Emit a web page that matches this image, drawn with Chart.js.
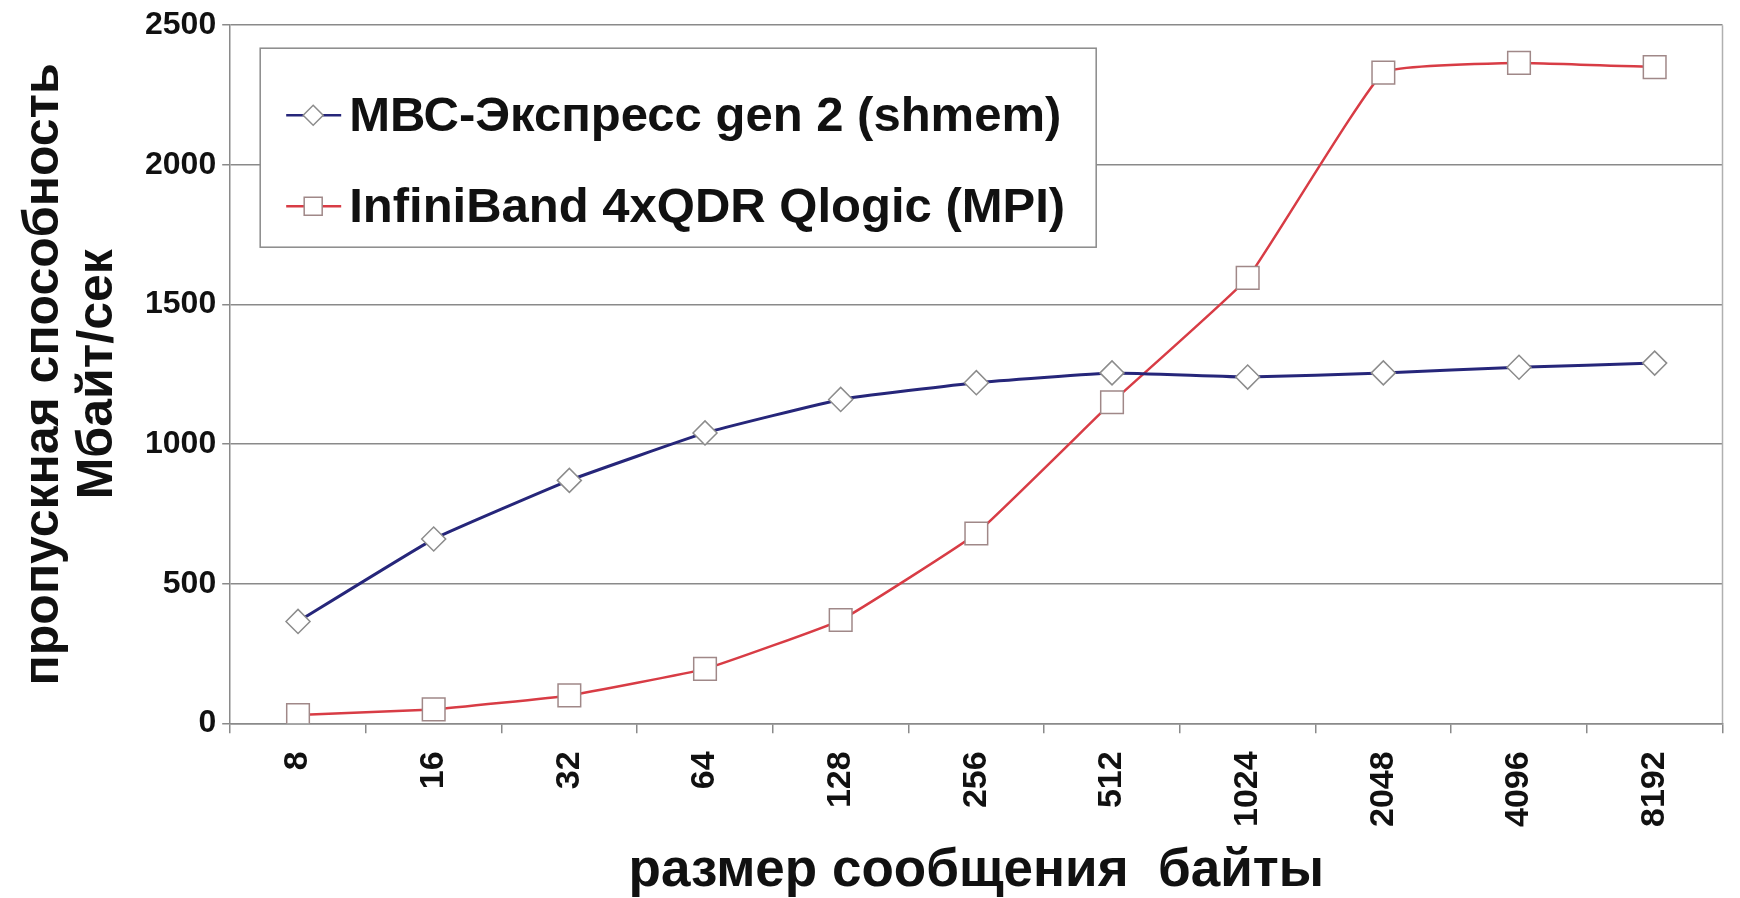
<!DOCTYPE html>
<html>
<head>
<meta charset="utf-8">
<script src="https://cdn.jsdelivr.net/npm/chart.js@4.4.1/dist/chart.umd.min.js"></script>
<style>
    html, body { margin: 0; padding: 0; background: #fff; }
    #wrap { width: 1740px; height: 898px; }
</style>
</head>
<body>
<div id="wrap"><canvas id="chart"></canvas></div>
<script>
// message sizes, bytes
const sizes = ["8", "16", "32", "64", "128", "256", "512", "1024", "2048", "4096", "8192"];
// bandwidth, MB/s
const mvsValues = [365, 660, 870, 1040, 1160, 1220, 1255, 1240, 1255, 1275, 1290];
const ibValues = [30, 50, 100, 195, 370, 680, 1150, 1595, 2330, 2365, 2350];
const seriesNames = ["МВС-Экспресс gen 2 (shmem)", "InfiniBand 4xQDR Qlogic (MPI)"];
const yTitle = ["пропускная способность", "Мбайт/сек"];
const xTitle = "размер сообщения  байты";

const FONT = "'Liberation Sans', Arial, sans-serif";
const GRID = "#8a8a8a";

/**
 * Legend drawn inside the plot, top-left, like the Excel original
 */
const insideLegend = {
    id: "insideLegend",
    afterDraw(chart) {
        const ctx = chart.ctx;
        const area = chart.chartArea;

        // right border of the plot
        ctx.save();
        ctx.strokeStyle = "#b0b0b0";
        ctx.lineWidth = 1.5;
        ctx.beginPath();
        ctx.moveTo(area.right, area.top);
        ctx.lineTo(area.right, area.bottom);
        ctx.stroke();

        const x0 = area.left + 30;
        const y0 = area.top + 23;
        const w = 836;
        const h = 199;

        ctx.fillStyle = "#fff";
        ctx.fillRect(x0, y0, w, h);
        ctx.strokeStyle = GRID;
        ctx.lineWidth = 1.5;
        ctx.strokeRect(x0, y0, w, h);

        ctx.font = `bold 49px ${FONT}`;
        ctx.textBaseline = "middle";
        const rows = [67, 158];

        chart.data.datasets.forEach((ds, i) => {
            const cy = y0 + rows[i];
            const lx = x0 + 26;
            const mx = lx + 27;

            ctx.strokeStyle = ds.borderColor;
            ctx.lineWidth = 2.5;
            ctx.beginPath();
            ctx.moveTo(lx, cy);
            ctx.lineTo(lx + 55, cy);
            ctx.stroke();

            ctx.fillStyle = "#fff";
            ctx.strokeStyle = ds.pointBorderColor;
            ctx.lineWidth = 1.5;
            ctx.beginPath();
            if (ds.pointStyle === "rectRot") {
                const r = 10;
                ctx.moveTo(mx, cy - r);
                ctx.lineTo(mx + r, cy);
                ctx.lineTo(mx, cy + r);
                ctx.lineTo(mx - r, cy);
                ctx.closePath();
            } else {
                const s = 9;
                ctx.rect(mx - s, cy - s, 2 * s, 2 * s);
            }
            ctx.fill();
            ctx.stroke();

            ctx.fillStyle = "#111";
            ctx.fillText(ds.label, lx + 63, cy + 2);
        });
        ctx.restore();
    },
};

new Chart(document.getElementById("chart"), {
    type: "line",
    data: {
        labels: sizes,
        datasets: [
            {
                label: seriesNames[0],
                data: mvsValues,
                borderColor: "#26267a",
                borderWidth: 3,
                tension: 0.1,
                pointStyle: "rectRot",
                pointRadius: 12,
                pointBackgroundColor: "#fff",
                pointBorderColor: "#8c8c8c",
                pointBorderWidth: 1.5,
            },
            {
                label: seriesNames[1],
                data: ibValues,
                borderColor: "#d83c45",
                borderWidth: 2.5,
                tension: 0.1,
                pointStyle: "rect",
                pointRadius: 16,
                pointBackgroundColor: "#fff",
                pointBorderColor: "#a08888",
                pointBorderWidth: 1.5,
            },
        ],
    },
    options: {
        responsive: true,
        maintainAspectRatio: false,
        animation: false,
        devicePixelRatio: 1,
        layout: {
            padding: { left: 17, right: 7, top: 12, bottom: 0 },
        },
        plugins: {
            legend: { display: false },
            tooltip: { enabled: false },
        },
        scales: {
            x: {
                offset: true,
                grid: {
                    offset: true,
                    drawOnChartArea: false,
                    color: GRID,
                    lineWidth: 1.5,
                    tickLength: 10,
                },
                border: { color: GRID, width: 1.5 },
                ticks: {
                    autoSkip: false,
                    minRotation: 90,
                    maxRotation: 90,
                    padding: 18,
                    color: "#111",
                    font: { family: FONT, size: 34, weight: "bold" },
                },
                title: {
                    display: true,
                    text: xTitle,
                    color: "#111",
                    padding: { top: 0, bottom: 0 },
                    font: { family: FONT, size: 53, weight: "bold", lineHeight: 1 },
                },
            },
            y: {
                min: 0,
                max: 2500,
                grid: {
                    color: GRID,
                    lineWidth: 1.5,
                    tickLength: 8,
                },
                border: { color: GRID, width: 1.5 },
                ticks: {
                    stepSize: 500,
                    padding: 6,
                    color: "#111",
                    font: { family: FONT, size: 32, weight: "bold" },
                    callback: (v) => String(v),
                },
                title: {
                    display: true,
                    text: yTitle,
                    color: "#111",
                    padding: { top: 0, bottom: 14 },
                    font: { family: FONT, size: 50, weight: "bold", lineHeight: 1.08 },
                },
            },
        },
    },
    plugins: [insideLegend],
});
</script>
</body>
</html>
